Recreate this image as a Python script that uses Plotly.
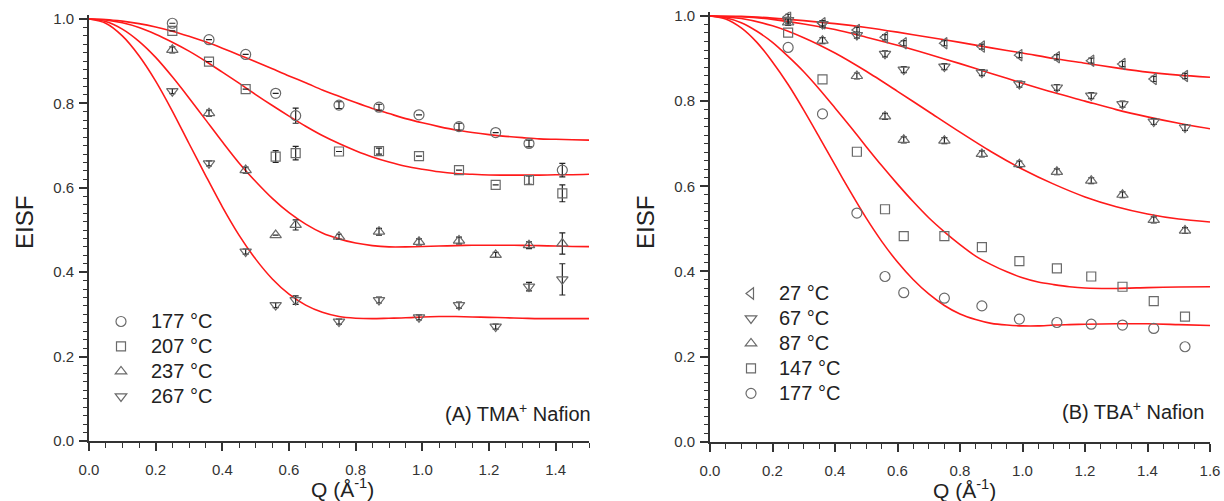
import plotly.graph_objects as go

# ---------------- Panel A: TMA+ Nafion ----------------
Q_A = [0.25, 0.36, 0.47, 0.56, 0.62, 0.75, 0.87, 0.99, 1.11, 1.22, 1.32, 1.42]
TEMPS_A = ["177 °C", "207 °C", "237 °C", "267 °C"]
EISF_A_177 = [0.990, 0.951, 0.916, 0.824, 0.771, 0.796, 0.791, 0.773, 0.745, 0.731, 0.705, 0.642]
EISF_A_207 = [0.972, 0.899, 0.834, 0.674, 0.682, 0.686, 0.687, 0.675, 0.642, 0.607, 0.618, 0.587]
EISF_A_237 = [0.927, 0.777, 0.642, 0.488, 0.512, 0.484, 0.496, 0.472, 0.475, 0.441, 0.464, 0.468]
EISF_A_267 = [0.829, 0.658, 0.449, 0.322, 0.334, 0.283, 0.334, 0.293, 0.322, 0.271, 0.366, 0.383]
ERR_A_177 = [0, 0, 0, 0, 0.018, 0.008, 0.007, 0, 0.008, 0, 0.008, 0.016]
ERR_A_207 = [0, 0, 0, 0.014, 0.016, 0, 0.007, 0, 0, 0, 0.010, 0.020]
ERR_A_237 = [0.007, 0.007, 0.007, 0, 0.012, 0.006, 0.008, 0.007, 0.008, 0.006, 0.008, 0.025]
ERR_A_267 = [0.006, 0.006, 0.006, 0.006, 0.010, 0.006, 0.007, 0.006, 0.007, 0.006, 0.010, 0.037]

# fitted model curves, panel A
FIT_Q_A = [0.00, 0.05, 0.10, 0.15, 0.20, 0.25, 0.30, 0.35, 0.40, 0.45, 0.50,
           0.55, 0.60, 0.65, 0.70, 0.75, 0.80, 0.85, 0.90, 0.95, 1.00,
           1.05, 1.10, 1.15, 1.20, 1.25, 1.30, 1.35, 1.40, 1.45, 1.50]
FIT_A_177 = [1.000, 0.999, 0.995, 0.989, 0.981, 0.971, 0.959, 0.946, 0.931, 0.915, 0.899,
             0.882, 0.865, 0.849, 0.832, 0.817, 0.802, 0.788, 0.776, 0.764, 0.754,
             0.745, 0.737, 0.731, 0.726, 0.722, 0.719, 0.716, 0.715, 0.714, 0.713]
FIT_A_207 = [1.000, 0.998, 0.991, 0.980, 0.964, 0.945, 0.924, 0.900, 0.874, 0.848, 0.821,
             0.795, 0.770, 0.746, 0.724, 0.705, 0.688, 0.673, 0.661, 0.651, 0.644,
             0.638, 0.634, 0.632, 0.6305, 0.630, 0.630, 0.630, 0.631, 0.631, 0.632]
FIT_A_237 = [1.000, 0.994, 0.976, 0.947, 0.909, 0.863, 0.813, 0.761, 0.709, 0.659, 0.615,
             0.575, 0.541, 0.514, 0.493, 0.479, 0.469, 0.463, 0.460, 0.460, 0.461,
             0.462, 0.463, 0.464, 0.464, 0.464, 0.4635, 0.463, 0.462, 0.461, 0.4606]
FIT_A_267 = [1.000, 0.990, 0.960, 0.913, 0.853, 0.782, 0.705, 0.629, 0.555, 0.488, 0.431,
             0.384, 0.348, 0.322, 0.305, 0.295, 0.291, 0.290, 0.291, 0.292, 0.294,
             0.295, 0.295, 0.294, 0.293, 0.292, 0.291, 0.290, 0.290, 0.290, 0.290]

# ---------------- Panel B: TBA+ Nafion ----------------
Q_B = [0.25, 0.36, 0.47, 0.56, 0.62, 0.75, 0.87, 0.99, 1.11, 1.22, 1.32, 1.42, 1.52]
TEMPS_B = ["27 °C", "67 °C", "87 °C", "147 °C", "177 °C"]
EISF_B_27 = [0.998, 0.983, 0.967, 0.950, 0.936, 0.936, 0.928, 0.908, 0.903, 0.895, 0.887, 0.852, 0.859]
EISF_B_67 = [0.990, 0.981, 0.955, 0.911, 0.874, 0.881, 0.867, 0.840, 0.832, 0.813, 0.793, 0.752, 0.738]
EISF_B_87 = [0.985, 0.942, 0.859, 0.764, 0.709, 0.707, 0.676, 0.652, 0.634, 0.613, 0.580, 0.521, 0.496]
EISF_B_147 = [0.961, 0.851, 0.681, 0.546, 0.483, 0.483, 0.457, 0.424, 0.407, 0.388, 0.364, 0.330, 0.294]
EISF_B_177 = [0.926, 0.770, 0.537, 0.388, 0.350, 0.337, 0.319, 0.288, 0.280, 0.276, 0.274, 0.266, 0.223]
ERR_B_27 = [0.006] * 13
ERR_B_67 = [0.007] * 13
ERR_B_87 = [0.007] * 13

# fitted model curves, panel B
FIT_Q_B = [0.0, 0.1, 0.2, 0.3, 0.4, 0.5, 0.6, 0.7, 0.8, 0.9, 1.0, 1.1, 1.2, 1.3, 1.4, 1.5, 1.6]
FIT_B_27 = [1.000, 0.999, 0.995, 0.989, 0.982, 0.973, 0.962, 0.950, 0.938, 0.925, 0.913,
            0.900, 0.889, 0.878, 0.868, 0.861, 0.856]
FIT_B_67 = [1.000, 0.998, 0.992, 0.981, 0.968, 0.950, 0.931, 0.910, 0.888, 0.865, 0.842,
            0.820, 0.800, 0.780, 0.763, 0.748, 0.735]
FIT_B_87 = [1.000, 0.994, 0.977, 0.949, 0.913, 0.870, 0.823, 0.775, 0.727, 0.681, 0.640,
            0.605, 0.575, 0.552, 0.535, 0.523, 0.516]
FIT_Q_B_FINE = [0.00, 0.05, 0.10, 0.15, 0.20, 0.25, 0.30, 0.35, 0.40, 0.45, 0.50,
                0.55, 0.60, 0.65, 0.70, 0.75, 0.80, 0.85, 0.90, 0.95, 1.00,
                1.05, 1.10, 1.15, 1.20, 1.30, 1.40, 1.50, 1.60]
FIT_B_147 = [1.000, 0.996, 0.984, 0.964, 0.938, 0.905, 0.869, 0.828, 0.784, 0.739, 0.693,
             0.648, 0.605, 0.564, 0.526, 0.493, 0.463, 0.436, 0.416, 0.399, 0.385,
             0.375, 0.369, 0.364, 0.361, 0.360, 0.362, 0.3635, 0.364]
FIT_B_177 = [1.000, 0.993, 0.972, 0.938, 0.892, 0.839, 0.779, 0.715, 0.650, 0.586, 0.525,
             0.470, 0.422, 0.381, 0.347, 0.320, 0.300, 0.287, 0.278, 0.274, 0.272,
             0.272, 0.274, 0.275, 0.276, 0.277, 0.277, 0.275, 0.273]

FONT = "Liberation Sans, Arial, sans-serif"
MARKER_COLOR = "#6a6a6a"
FIT_COLOR = "#ff1a1a"
AXIS_COLOR = "#333333"
LEGEND_TEXT_PX = 20

fig = go.Figure()


def add_fit(xs, ys, xa, ya):
    fig.add_trace(go.Scatter(
        x=xs, y=ys, mode="lines", xaxis=xa, yaxis=ya, showlegend=False,
        line=dict(color=FIT_COLOR, width=1.6, shape="spline", smoothing=0.8),
        hoverinfo="skip"))


def add_points(xs, ys, errs, symbol, name, xa, ya, legend, size=9):
    err = None
    if errs is not None:
        err = dict(type="data", array=errs, visible=True, color="#222222",
                   thickness=1.2, width=3)
    label = "<span style='font-size:%dpx'>%s</span>" % (LEGEND_TEXT_PX, name)
    fig.add_trace(go.Scatter(
        x=xs, y=ys, mode="markers", name=label, xaxis=xa, yaxis=ya, legend=legend,
        marker=dict(symbol=symbol, size=size, color=MARKER_COLOR,
                    line=dict(color=MARKER_COLOR, width=1.2)),
        error_y=err))


# panel A
for fy in (FIT_A_177, FIT_A_207, FIT_A_237, FIT_A_267):
    add_fit(FIT_Q_A, fy, "x", "y")
add_points(Q_A, EISF_A_177, ERR_A_177, "circle-open", TEMPS_A[0], "x", "y", "legend", 10)
add_points(Q_A, EISF_A_207, ERR_A_207, "square-open", TEMPS_A[1], "x", "y", "legend", 9)
add_points(Q_A, EISF_A_237, ERR_A_237, "triangle-up-open", TEMPS_A[2], "x", "y", "legend", 10)
add_points(Q_A, EISF_A_267, ERR_A_267, "triangle-down-open", TEMPS_A[3], "x", "y", "legend", 10)

# panel B
add_fit(FIT_Q_B, FIT_B_27, "x2", "y2")
add_fit(FIT_Q_B, FIT_B_67, "x2", "y2")
add_fit(FIT_Q_B, FIT_B_87, "x2", "y2")
add_fit(FIT_Q_B_FINE, FIT_B_147, "x2", "y2")
add_fit(FIT_Q_B_FINE, FIT_B_177, "x2", "y2")
add_points(Q_B, EISF_B_27, ERR_B_27, "triangle-left-open", TEMPS_B[0], "x2", "y2", "legend2", 10)
add_points(Q_B, EISF_B_67, ERR_B_67, "triangle-down-open", TEMPS_B[1], "x2", "y2", "legend2", 10)
add_points(Q_B, EISF_B_87, ERR_B_87, "triangle-up-open", TEMPS_B[2], "x2", "y2", "legend2", 10)
add_points(Q_B, EISF_B_147, None, "square-open", TEMPS_B[3], "x2", "y2", "legend2", 9)
add_points(Q_B, EISF_B_177, None, "circle-open", TEMPS_B[4], "x2", "y2", "legend2", 10)

W, H = 1224, 501


def xaxis_style(domain, rng, anchor):
    return dict(domain=domain, range=rng, anchor=anchor, showline=True,
                linecolor=AXIS_COLOR, linewidth=1.6, ticks="outside", ticklen=8,
                tickwidth=1.5, tickcolor=AXIS_COLOR, dtick=0.2, tick0=0,
                tickformat=".1f", showgrid=False, zeroline=False, automargin=False,
                ticklabelstandoff=6,
                tickfont=dict(family=FONT, size=15, color="#333333"),
                minor=dict(dtick=0.05, ticks="outside", ticklen=5, tickwidth=1.2,
                           tickcolor=AXIS_COLOR, showgrid=False))


def yaxis_style(domain, anchor):
    return dict(domain=domain, range=[0, 1.01], anchor=anchor, showline=True,
                linecolor=AXIS_COLOR, linewidth=1.6, ticks="outside", ticklen=8,
                tickwidth=1.5, tickcolor=AXIS_COLOR, dtick=0.2, tick0=0,
                tickformat=".1f", showgrid=False, zeroline=False, automargin=False,
                ticklabelstandoff=2,
                tickfont=dict(family=FONT, size=15, color="#333333"),
                minor=dict(dtick=0.02, ticks="outside", ticklen=4, tickwidth=1.1,
                           tickcolor=AXIS_COLOR, showgrid=False))


# legend row pitch follows the legend font size (1.3 * size + 3 px)
legend_common = dict(font=dict(family=FONT, size=16.9, color="#222222"),
                     bgcolor="rgba(0,0,0,0)", borderwidth=0,
                     xanchor="left", yanchor="top", tracegroupgap=0)

fig.update_layout(
    width=W, height=H,
    margin=dict(l=0, r=0, t=0, b=0, autoexpand=False),
    paper_bgcolor="white", plot_bgcolor="white",
    font=dict(family=FONT, color="#222222"),
    xaxis=xaxis_style([89 / W, 589 / W], [0, 1.5], "y"),
    yaxis=yaxis_style([(H - 441) / H, (H - 14.8) / H], "x"),
    xaxis2=xaxis_style([710 / W, 1210 / W], [0, 1.6], "y2"),
    yaxis2=yaxis_style([(H - 441.7) / H, (H - 11.7) / H], "x2"),
    legend=dict(x=91 / W, y=1 - 304 / H, itemwidth=50, **legend_common),
    legend2=dict(x=723 / W, y=1 - 276 / H, itemwidth=46, **legend_common),
    annotations=[
        dict(text="EISF", x=24 / W, y=1 - 223 / H, xref="paper", yref="paper",
             textangle=-90, showarrow=False, xanchor="center", yanchor="middle",
             font=dict(family=FONT, size=24, color="#222222")),
        dict(text="EISF", x=645 / W, y=1 - 223 / H, xref="paper", yref="paper",
             textangle=-90, showarrow=False, xanchor="center", yanchor="middle",
             font=dict(family=FONT, size=24, color="#222222")),
        dict(text="Q (Å<sup>-1</sup>)", x=342 / W, y=1 - 488 / H, xref="paper",
             yref="paper", showarrow=False, xanchor="center", yanchor="middle",
             font=dict(family=FONT, size=21, color="#222222")),
        dict(text="Q (Å<sup>-1</sup>)", x=964 / W, y=1 - 489 / H, xref="paper",
             yref="paper", showarrow=False, xanchor="center", yanchor="middle",
             font=dict(family=FONT, size=21, color="#222222")),
        dict(text="(A) TMA<sup>+</sup> Nafion", x=593 / W, y=1 - 412 / H,
             xref="paper", yref="paper", showarrow=False, xanchor="right",
             yanchor="middle", font=dict(family=FONT, size=20, color="#222222")),
        dict(text="(B) TBA<sup>+</sup> Nafion", x=1206 / W, y=1 - 410 / H,
             xref="paper", yref="paper", showarrow=False, xanchor="right",
             yanchor="middle", font=dict(family=FONT, size=20, color="#222222")),
    ],
)

fig.write_html("out.html")
